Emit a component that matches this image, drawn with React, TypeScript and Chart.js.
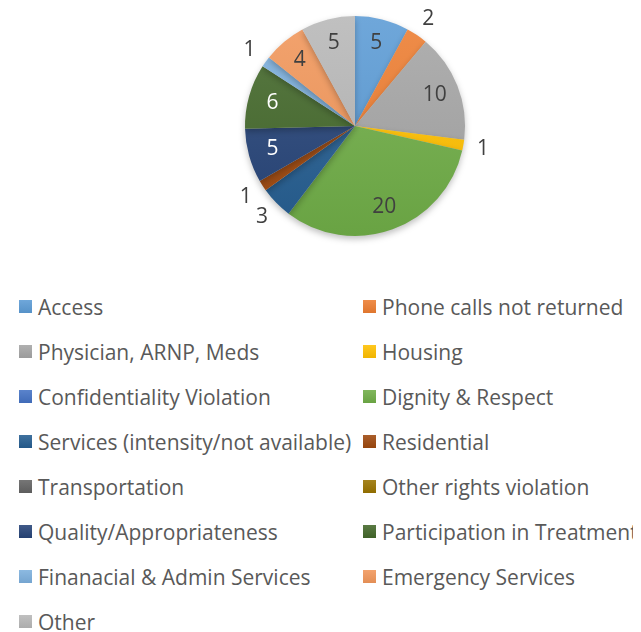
import React, { useEffect, useRef } from "react";
import { Chart, registerables } from "chart.js";

Chart.register(...registerables);

const categories = [
  "Access",
  "Phone calls not returned",
  "Physician, ARNP, Meds",
  "Housing",
  "Confidentiality Violation",
  "Dignity & Respect",
  "Services (intensity/not available)",
  "Residential",
  "Transportation",
  "Other rights violation",
  "Quality/Appropriateness",
  "Participation in Treatment",
  "Finanacial & Admin Services",
  "Emergency Services",
  "Other",
];

const values = [5, 2, 10, 1, 0, 20, 3, 1, 0, 0, 5, 6, 1, 4, 5];

const colors = [
  "#5B9BD5",
  "#ED7D31",
  "#A5A5A5",
  "#FFC000",
  "#4472C4",
  "#70AD47",
  "#255E91",
  "#9E480E",
  "#636363",
  "#997300",
  "#264478",
  "#43682B",
  "#7CAFDD",
  "#F1975A",
  "#B7B7B7",
];

const darkLabel = [false, false, false, false, false, false, false, false, false, false, true, true, false, false, false];

function shade(hex: string, amt: number): string {
  const n = parseInt(hex.slice(1), 16);
  let r = (n >> 16) & 255, g = (n >> 8) & 255, b = n & 255;
  if (amt >= 0) {
    r = Math.round(r + (255 - r) * amt);
    g = Math.round(g + (255 - g) * amt);
    b = Math.round(b + (255 - b) * amt);
  } else {
    r = Math.round(r * (1 + amt));
    g = Math.round(g * (1 + amt));
    b = Math.round(b * (1 + amt));
  }
  return `rgb(${r},${g},${b})`;
}

const FONT = "'Open Sans', Lato, sans-serif";

const labelPlugin = {
  id: "pieLabels",
  afterDatasetsDraw(chart: any) {
    const ctx = chart.ctx;
    const meta = chart.getDatasetMeta(0);
    ctx.save();
    ctx.font = `21px ${FONT}`;
    ctx.textAlign = "center";
    ctx.textBaseline = "middle";
    meta.data.forEach((arc: any, i: number) => {
      const v = values[i];
      if (!v) return;
      const p = arc.getProps(["x", "y", "startAngle", "endAngle", "outerRadius"], true);
      const mid = (p.startAngle + p.endAngle) / 2;
      const inside = v > 3;
      const r = inside ? p.outerRadius * 0.78 : p.outerRadius + 20;
      const x = p.x + Math.cos(mid) * r;
      const y = p.y + Math.sin(mid) * r;
      ctx.fillStyle = inside && darkLabel[i] ? "#FFFFFF" : "#404040";
      ctx.fillText(String(v), x, y);
    });
    ctx.restore();
  },
};

const shadowPlugin = {
  id: "pieShadow",
  beforeDatasetsDraw(chart: any) {
    const ctx = chart.ctx;
    ctx.save();
    ctx.shadowColor = "rgba(0,0,0,0.25)";
    ctx.shadowBlur = 6;
    ctx.shadowOffsetY = 3;
  },
  afterDatasetsDraw(chart: any) {
    chart.ctx.restore();
  },
};

function PieChart() {
  const ref = useRef<HTMLCanvasElement | null>(null);
  useEffect(() => {
    if (!ref.current) return;
    const chart = new Chart(ref.current, {
      type: "pie",
      data: {
        labels: categories,
        datasets: [
          {
            data: values,
            borderWidth: 0,
            backgroundColor: (c: any) => {
              const base = colors[c.dataIndex];
              const area = c.chart.chartArea;
              if (!area) return base;
              const g = c.chart.ctx.createLinearGradient(0, area.top, 0, area.bottom);
              g.addColorStop(0, shade(base, 0.12));
              g.addColorStop(1, shade(base, -0.06));
              return g;
            },
          },
        ],
      },
      options: {
        responsive: false,
        animation: false,
        layout: { padding: { left: 237, right: 168, top: 8, bottom: 48 } },
        plugins: {
          legend: { display: false },
          tooltip: { enabled: false },
        },
      },
      plugins: [shadowPlugin, labelPlugin],
    });
    return () => chart.destroy();
  }, []);
  return <canvas ref={ref} width={625} height={276} style={{ display: "block" }} />;
}

export default function App() {
  useEffect(() => {
    document.documentElement.style.overflow = "hidden";
    document.body.style.overflow = "hidden";
  }, []);
  return (
    <div style={{ width: 633, fontFamily: FONT }}>
      <PieChart />
      <div
        style={{
          display: "grid",
          gridTemplateColumns: "344px 278px",
          paddingLeft: 11,
        }}
      >
        {categories.map((c, i) => (
          <div
            key={c}
            style={{
              display: "flex",
              alignItems: "center",
              height: 45,
              whiteSpace: "nowrap",
            }}
          >
            <span
              style={{
                display: "inline-block",
                width: 13,
                height: 13,
                background: `linear-gradient(${shade(colors[i], 0.12)}, ${shade(colors[i], -0.06)})`,
                marginRight: 6,
                flex: "none",
              }}
            />
            <span style={{ fontSize: 21, color: "#595959" }}>{c}</span>
          </div>
        ))}
      </div>
    </div>
  );
}
